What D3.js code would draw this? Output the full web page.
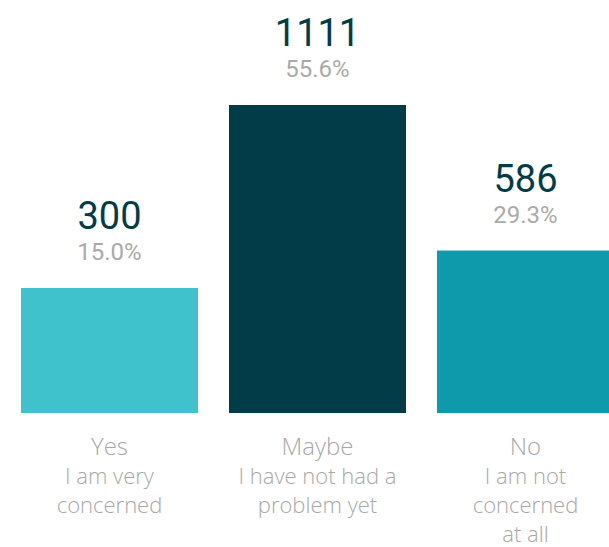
<!DOCTYPE html>
<html>
<head>
<meta charset="utf-8">
<script src="https://cdn.jsdelivr.net/npm/d3@7"></script>
<style>
  html, body { margin: 0; padding: 0; background: #fff; overflow: hidden; }
  svg { display: block; }
</style>
</head>
<body>
<svg id="chart" width="609" height="547"></svg>
<script>
const categories = ["Yes", "Maybe", "No"];
const subtitleLines = [
  ["I am very", "concerned"],
  ["I have not had a", "problem yet"],
  ["I am not", "concerned", "at all"]
];
const counts = [300, 1111, 586];
const percents = ["15.0%", "55.6%", "29.3%"];
const colors = ["#3fc2cb", "#023c49", "#0f9aab"];

const baseline = 413;
const minBarHeight = 125;

const svg = d3.select("#chart");

const x = d3.scaleBand()
  .domain(categories)
  .range([21, 614])
  .paddingInner(31 / 208)
  .paddingOuter(0);

const y = d3.scaleLinear()
  .domain([0, d3.max(counts)])
  .range([baseline, 105]);

const data = categories.map((c, i) => ({
  cat: c, sub: subtitleLines[i], count: counts[i], pct: percents[i], color: colors[i]
}));

const barTop = d => Math.min(y(d.count), baseline - minBarHeight);
const cx = d => x(d.cat) + x.bandwidth() / 2;

const g = svg.append("g");

g.selectAll("rect.bar")
  .data(data)
  .join("rect")
  .attr("class", "bar")
  .attr("x", d => x(d.cat))
  .attr("width", x.bandwidth())
  .attr("y", d => barTop(d))
  .attr("height", d => baseline - barTop(d))
  .attr("fill", d => d.color);

g.selectAll("text.count")
  .data(data)
  .join("text")
  .attr("class", "count")
  .attr("x", cx)
  .attr("y", d => barTop(d) - 59)
  .attr("text-anchor", "middle")
  .attr("font-family", "Roboto, sans-serif")
  .attr("font-size", 38)
  .attr("fill", "#023c49")
  .text(d => d.count);

g.selectAll("text.pct")
  .data(data)
  .join("text")
  .attr("class", "pct")
  .attr("x", cx)
  .attr("y", d => barTop(d) - 28)
  .attr("text-anchor", "middle")
  .attr("font-family", "Roboto, sans-serif")
  .attr("font-size", 24)
  .attr("fill", "#aaaaaa")
  .text(d => d.pct);

const labels = g.selectAll("text.cat")
  .data(data)
  .join("text")
  .attr("class", "cat")
  .attr("text-anchor", "middle")
  .attr("font-family", "'Open Sans', sans-serif")
  .attr("font-weight", 300)
  .attr("fill", "#a8a8a8");

labels.each(function(d) {
  const t = d3.select(this);
  t.append("tspan")
    .attr("x", cx(d))
    .attr("y", baseline + 42)
    .attr("font-size", 24)
    .text(d.cat);
  d.sub.forEach((ln, i) => {
    t.append("tspan")
      .attr("x", cx(d))
      .attr("y", baseline + 42 + 29 * (i + 1))
      .attr("font-size", 22)
      .text(ln);
  });
});
</script>
</body>
</html>
